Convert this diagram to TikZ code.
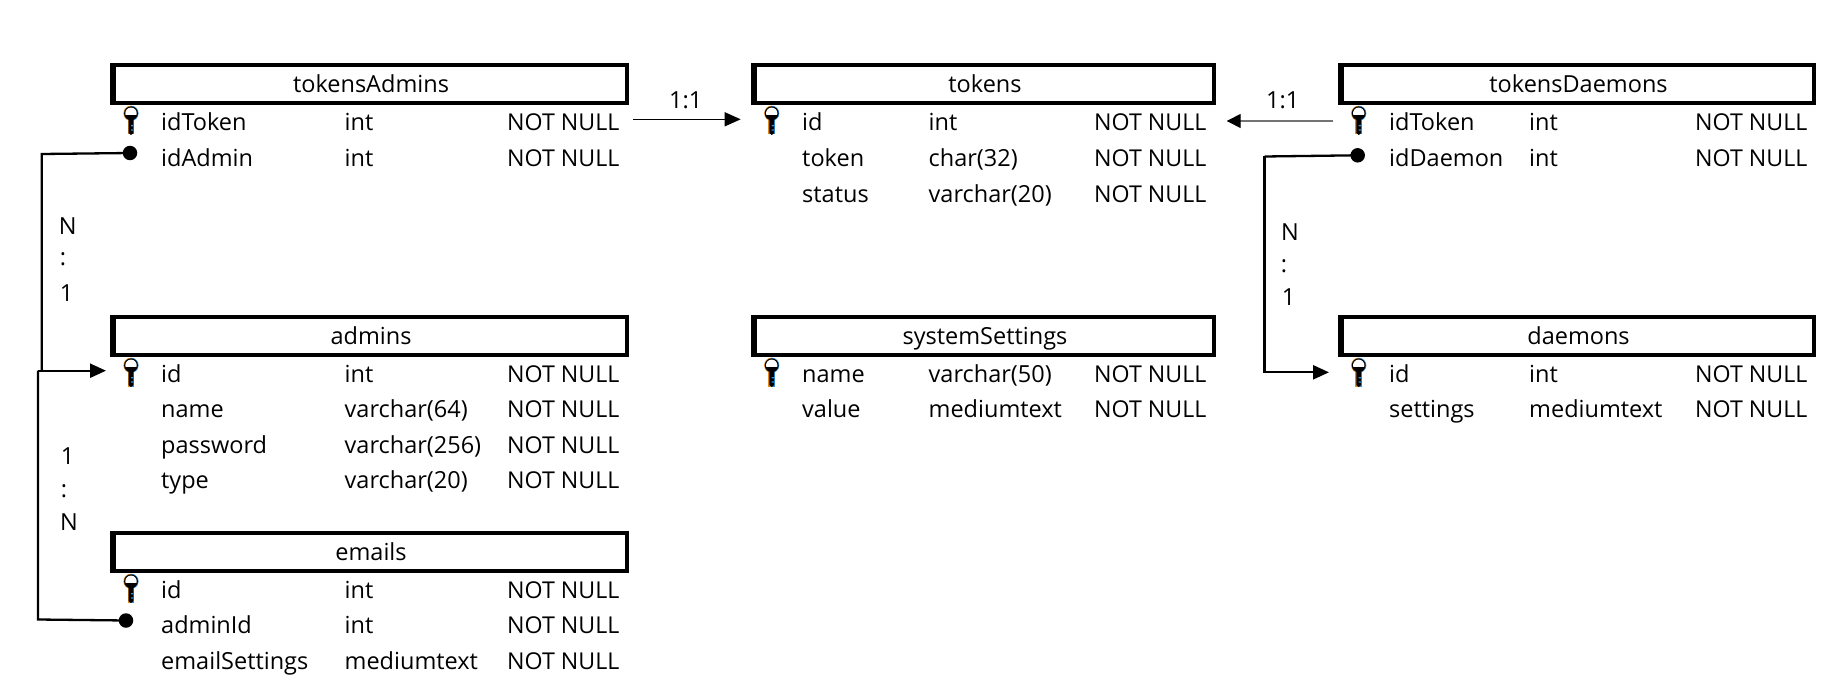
\documentclass[tikz,border=0pt]{standalone}
\usepackage{fontspec}
\setmainfont{Open Sans}
\usetikzlibrary{arrows.meta,calc}
\definecolor{keyorange}{HTML}{E08A1E}
\definecolor{keyblue}{HTML}{2F8FE0}
\tikzset{
  x=1pt,y=-1pt,
  tabletitle/.style={draw=black,line width=4pt,fill=white,inner sep=0pt,minimum height=38pt},
  cell/.style={anchor=base west,inner sep=0pt,font=\fontsize{23.5}{27}\selectfont},
  nullcell/.style={anchor=base west,inner sep=0pt,font=\fontsize{23.2}{27}\selectfont},
  rel/.style={anchor=center,inner sep=0pt,font=\fontsize{23.5}{27}\selectfont},
  dotend/.style={circle,fill=black,inner sep=0pt,minimum size=14.5pt},
  link/.style={draw=black,line width=2.3pt},
  thin link/.style={line width=1.4pt},
  tip/.style={-{Triangle[length=16pt,width=14pt]}},
}
% \tabletop{name}{x1}{x2}{y1}{title}{title baseline}
\newcommand{\tabletop}[6]{%
  \node[tabletitle,minimum width={#3-#2-4pt}] (#1) at ({(#2+#3)/2},{#4+21}) {};
  \node[rel,anchor=base] (#1title) at ({(#2+#3)/2+1.5},#6) {#5};
  \fill[black] (#2,#4) rectangle (#2+5.5,#4+42);
}
% \keyicon{name}{x}{y top}
\newcommand{\keyicon}[3]{%
  \begin{scope}[shift={(#2,#3)}]
    \coordinate (#1) at (0,13);
    \begin{scope}
      \clip (-9,-1) rectangle (0,30);
      \fill[keyorange] (0,7.3) circle[radius=7.6];
      \fill[keyorange] (-3.3,13) rectangle (0,28.5);
    \end{scope}
    \begin{scope}
      \clip (0,-1) rectangle (9,30);
      \fill[keyblue] (0,7.3) circle[radius=7.6];
      \fill[keyblue] (0,13) rectangle (3.3,28.5);
    \end{scope}
    \fill[black] (0,7.3) circle[radius=6.9];
    \begin{scope}
      \clip (-8,-1) rectangle (8,8.6);
      \fill[white] (0,7.3) circle[radius=5.7];
    \end{scope}
    \fill[black] (-2.4,12) -- (2.4,12) -- (2.4,27) -- (0,29) -- (-2.4,27) -- cycle;
    \fill[keyblue] (0,19) rectangle (2.4,20.3) (0,23.4) rectangle (2.4,24.7);
  \end{scope}}
% \rowcells{prefix}{baseline}{x1}{x2}{x3}{a}{b}{c}
\newcommand{\rowcells}[8]{%
  \node[cell] (#1n) at (#3,#2) {#6};
  \node[cell] (#1t) at (#4,#2) {#7};
  \node[nullcell] (#1c) at (#5,#2) {#8};
}
\begin{document}
\begin{tikzpicture}
\useasboundingbox (0,0) rectangle (1831,698);
\fill[white] (0,0) rectangle (1831,698);

% tokensAdmins
\tabletop{ta}{110}{629}{63}{tokensAdmins}{93}
\keyicon{takey}{131}{106}
\rowcells{ta1}{131}{161}{344.5}{507}{idToken}{int}{NOT NULL}
\rowcells{ta2}{166}{161}{344.5}{507}{idAdmin}{int}{NOT NULL}

% tokens
\tabletop{to}{751}{1216}{63}{tokens}{93}
\keyicon{tokey}{771.7}{106}
\rowcells{to1}{131}{802}{928.5}{1094}{id}{int}{NOT NULL}
\rowcells{to2}{166}{802}{928.5}{1094}{token}{char(32)}{NOT NULL}
\rowcells{to3}{202}{802}{928.5}{1094}{status}{varchar(20)}{NOT NULL}

% tokensDaemons
\tabletop{td}{1338}{1816}{63}{tokensDaemons}{93}
\keyicon{tdkey}{1358.7}{106}
\rowcells{td1}{131}{1389}{1529}{1695}{idToken}{int}{NOT NULL}
\rowcells{td2}{166}{1389}{1529}{1695}{idDaemon}{int}{NOT NULL}

% admins
\tabletop{ad}{110}{629}{315}{admins}{344}
\keyicon{adkey}{131}{358}
\rowcells{ad1}{382}{161}{344.5}{507}{id}{int}{NOT NULL}
\rowcells{ad2}{417}{161}{344.5}{507}{name}{varchar(64)}{NOT NULL}
\rowcells{ad3}{453}{161}{344.5}{507}{password}{varchar(256)}{NOT NULL}
\rowcells{ad4}{488}{161}{344.5}{507}{type}{varchar(20)}{NOT NULL}

% systemSettings
\tabletop{ss}{751}{1216}{315}{systemSettings}{344}
\keyicon{sskey}{771.7}{358}
\rowcells{ss1}{382}{802}{928.5}{1094}{name}{varchar(50)}{NOT NULL}
\rowcells{ss2}{417}{802}{928.5}{1094}{value}{mediumtext}{NOT NULL}

% daemons
\tabletop{da}{1338}{1816}{315}{daemons}{344}
\keyicon{dakey}{1358.7}{358}
\rowcells{da1}{382}{1389}{1529}{1695}{id}{int}{NOT NULL}
\rowcells{da2}{417}{1389}{1529}{1695}{settings}{mediumtext}{NOT NULL}

% emails
\tabletop{em}{110}{629}{531}{emails}{560}
\keyicon{emkey}{131}{574}
\rowcells{em1}{598}{161}{344.5}{507}{id}{int}{NOT NULL}
\rowcells{em2}{633}{161}{344.5}{507}{adminId}{int}{NOT NULL}
\rowcells{em3}{669}{161}{344.5}{507}{emailSettings}{mediumtext}{NOT NULL}

% connector ends
\node[dotend] (dotTA) at (130,153) {};
\node[dotend] (dotEM) at (126,620.5) {};
\node[dotend] (dotTD) at (1357.7,155.3) {};
\coordinate (adIn) at (106,370.7);
\coordinate (daIn) at (1329,372.3);
\coordinate (taOut) at (633,119.3);
\coordinate (toIn) at (740.7,119.3);
\coordinate (tdOut) at (1333,121);
\coordinate (toInR) at (1226.7,121);
\coordinate (bendA) at (41.7,154);
\coordinate (bendB) at (38,619.5);
\coordinate (bendC) at (1264.5,156.5);

% connectors
\draw[link] (dotTA.center) -- (bendA) -- (bendA |- adIn);
\draw[link,tip] (bendB |- adIn) -- (adIn);
\draw[link] (dotEM.center) -- (bendB) -- (bendB |- adIn);
\draw[link] (dotTD.center) -- (bendC);
\draw[link,tip] (bendC) -- (bendC |- daIn) -- (daIn);
\draw[thin link,tip,draw=black] (taOut) -- (toIn);
\draw[thin link,draw=black!55,-{Triangle[length=14pt,width=14pt,fill=black,color=black]}] (tdOut) -- (toInR);

% cardinality labels
\node[rel] (r1) at (685.7,100.7) {1:1};
\node[rel] (r2) at (1282.7,100.7) {1:1};
\node[rel] (n1a) at (67.7,226.6) {N};
\node[rel] (n1b) at (63,259.5) {:};
\node[rel] (n1c) at (66.5,293) {1};
\node[rel] (n2a) at (67.7,456) {1};
\node[rel] (n2b) at (64,491.7) {:};
\node[rel] (n2c) at (69,521.7) {N};
\node[rel] (n3a) at (1290,232.5) {N};
\node[rel] (n3b) at (1284,266.7) {:};
\node[rel] (n3c) at (1288.5,297) {1};
\end{tikzpicture}
\end{document}
